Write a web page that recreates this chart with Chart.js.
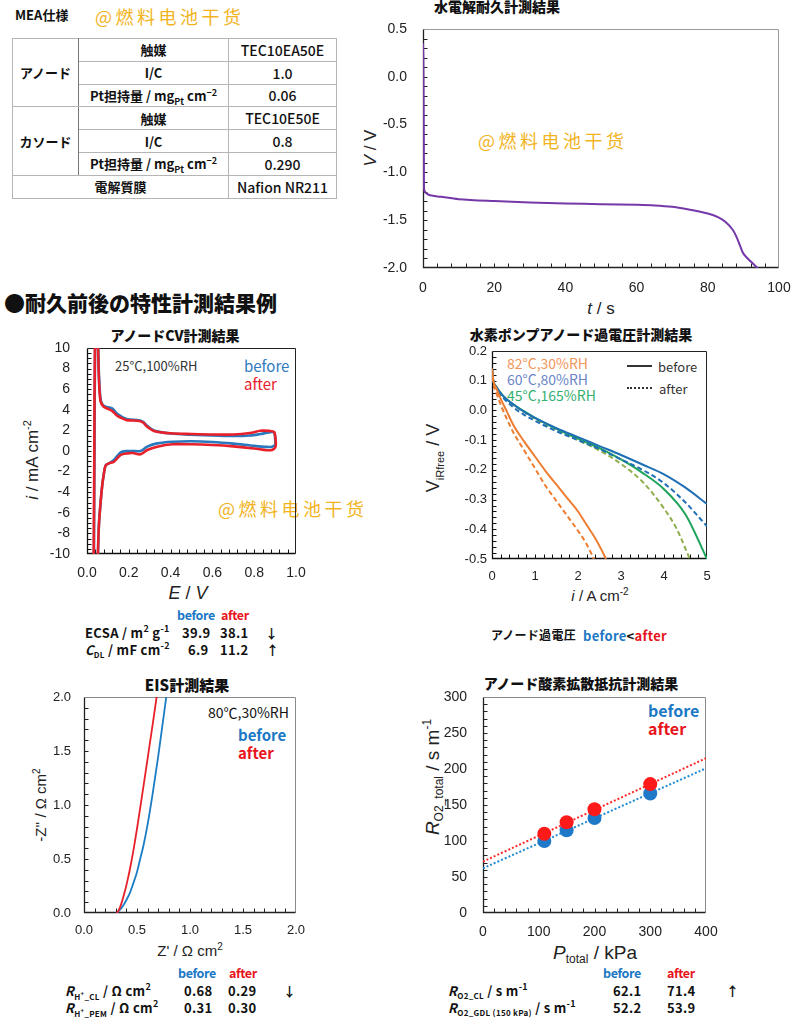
<!DOCTYPE html>
<html>
<head>
<meta charset="utf-8">
<script src="https://cdn.jsdelivr.net/npm/chart.js@4.4.1/dist/chart.umd.min.js"></script>
<style>
body { margin: 0; background: #fff; }
#page { position: relative; width: 797px; height: 1025px; overflow: hidden; font-family: "Noto Sans CJK JP", sans-serif; color: #111; }
.t { position: absolute; white-space: nowrap; line-height: 1; }
.c { transform: translate(-50%, -50%); }
.v { transform: translateY(-50%); }
.rot { transform: translate(-50%, -50%) rotate(-90deg); }
.title { font-weight: 900; font-size: 14px; }
.ax { font-family: "Liberation Sans", Arial, sans-serif; color: #222; }
.wm { color: #f2b41e; font-family: "Noto Sans CJK SC", sans-serif; font-size: 18px; letter-spacing: 3.5px; }
.b { font-weight: 700; }
.blue { color: #1b78c4; }
.red { color: #e8141c; }
.row { font-weight: 700; font-size: 13px; letter-spacing: 0.3px; }
.hd { letter-spacing: -0.4px; font-size: 12.5px; }
sub, sup { line-height: 0; }
canvas { position: absolute; }
#spec { position: absolute; left: 12px; top: 38px; width: 324px; border-collapse: collapse; table-layout: fixed; font-weight: 700; font-size: 13px; }
#spec td { border: 1px solid #b5b5b5; height: 21.8px; padding: 0; text-align: center; }
#spec td.val { font-weight: 500; font-size: 14px; }
#spec { border: 1.5px solid #444; }
#spec td.side { border-right: 1px solid #777; }
#spec tr.sep td { border-top: 1.5px solid #999; }
.leg { position: absolute; height: 0; width: 25px; }
</style>
</head>
<body>
<div id="page">
  <div class="t v b" style="left:15px;top:14px;font-size:13px;">MEA仕様</div>
  <div class="t v wm" style="left:95px;top:16px;">@燃料电池干货</div>

  <table id="spec">
    <colgroup><col style="width:66px"><col style="width:150px"><col style="width:108px"></colgroup>
    <tr><td rowspan="3" class="side">アノード</td><td>触媒</td><td class="val">TEC10EA50E</td></tr>
    <tr><td>I/C</td><td class="val">1.0</td></tr>
    <tr><td>Pt担持量 / mg<sub style="font-size:9px">Pt</sub> cm<sup style="font-size:9px">−2</sup></td><td class="val">0.06</td></tr>
    <tr class="sep"><td rowspan="3" class="side">カソード</td><td>触媒</td><td class="val">TEC10E50E</td></tr>
    <tr><td>I/C</td><td class="val">0.8</td></tr>
    <tr><td>Pt担持量 / mg<sub style="font-size:9px">Pt</sub> cm<sup style="font-size:9px">−2</sup></td><td class="val">0.290</td></tr>
    <tr><td colspan="2">電解質膜</td><td class="val">Nafion NR211</td></tr>
  </table>

  <!-- water electrolysis -->
  <div class="t c title" style="left:497px;top:6px;">水電解耐久計測結果</div>
  <div class="t rot ax" style="left:370px;top:148px;font-size:17px;"><i>V</i> / V</div>
  <div class="t c ax" style="left:601px;top:308px;font-size:17px;"><i>t</i> / s</div>
  <div class="t v wm" style="left:478px;top:140px;">@燃料电池干货</div>

  <div class="t v" style="left:4px;top:302px;font-size:21px;font-weight:900;">●耐久前後の特性計測結果例</div>

  <!-- CV -->
  <div class="t c title" style="left:175px;top:335px;">アノードCV計測結果</div>
  <div class="t rot ax" style="left:32px;top:460px;font-size:17px;"><i>i</i> / mA cm<sup style="font-size:11px">-2</sup></div>
  <div class="t c ax" style="left:188px;top:593px;font-size:18px;"><i>E</i> / <i>V</i></div>
  <div class="t v" style="left:115px;top:365px;font-size:13px;color:#333;">25°C,100%RH</div>
  <div class="t v" style="left:244px;top:365px;font-size:15px;color:#2e7bbf;">before</div>
  <div class="t v" style="left:244px;top:383px;font-size:15px;color:#e8202a;">after</div>
  <div class="t v wm" style="left:218px;top:508px;">@燃料电池干货</div>

  <div class="t v row hd blue" style="left:177px;top:615px;">before</div>
  <div class="t v row hd red" style="left:221px;top:615px;">after</div>
  <div class="t v row" style="left:85px;top:632px;">ECSA / m<sup style="font-size:9px">2</sup> g<sup style="font-size:9px">-1</sup></div>
  <div class="t v row" style="left:182px;top:632px;">39.9</div>
  <div class="t v row" style="left:220px;top:632px;">38.1</div>
  <div class="t v row" style="left:265px;top:632px;">↓</div>
  <div class="t v row" style="left:85px;top:649px;"><i>C</i><sub style="font-size:8px">DL</sub> / mF cm<sup style="font-size:9px">-2</sup></div>
  <div class="t v row" style="left:188px;top:649px;">6.9</div>
  <div class="t v row" style="left:220px;top:649px;">11.2</div>
  <div class="t v row" style="left:266px;top:649px;">↑</div>

  <!-- hydrogen pump -->
  <div class="t c title" style="left:581px;top:334px;">水素ポンプアノード過電圧計測結果</div>
  <div class="t rot ax" style="left:433px;top:458px;font-size:18px;">V<sub style="font-size:11px">iRfree</sub> / V</div>
  <div class="t c ax" style="left:600px;top:595px;font-size:15px;"><i>i</i> / A cm<sup style="font-size:10px">-2</sup></div>
  <div class="t v" style="left:507px;top:363px;font-size:14px;color:#f0965a;">82°C,30%RH</div>
  <div class="t v" style="left:507px;top:379px;font-size:14px;color:#6a86c8;">60°C,80%RH</div>
  <div class="t v" style="left:507px;top:395px;font-size:14px;color:#33b070;">45°C,165%RH</div>
  <div class="leg" style="left:627px;top:365px;border-top:2px solid #333;"></div>
  <div class="leg" style="left:627px;top:387px;border-top:2px dotted #333;"></div>
  <div class="t v" style="left:658px;top:366px;font-size:13px;color:#333;">before</div>
  <div class="t v" style="left:659px;top:388px;font-size:13px;color:#333;">after</div>
  <div class="t v row" style="left:491px;top:635px;font-size:12px;">アノード過電圧</div>
  <div class="t v row" style="left:583px;top:635px;"><span class="blue">before</span>&lt;<span class="red">after</span></div>

  <!-- EIS -->
  <div class="t c title" style="left:187px;top:684px;font-size:15px;">EIS計測結果</div>
  <div class="t rot ax" style="left:40px;top:805px;font-size:15px;">-Z'' / Ω cm<sup style="font-size:10px">2</sup></div>
  <div class="t c ax" style="left:190px;top:950px;font-size:15px;">Z' / Ω cm<sup style="font-size:10px">2</sup></div>
  <div class="t v" style="left:208px;top:712px;font-size:14px;">80℃,30%RH</div>
  <div class="t v b blue" style="left:238px;top:734px;font-size:15px;">before</div>
  <div class="t v b red" style="left:238px;top:752px;font-size:15px;">after</div>

  <div class="t v row hd blue" style="left:178px;top:973px;">before</div>
  <div class="t v row hd red" style="left:229px;top:973px;">after</div>
  <div class="t v row" style="left:65px;top:990px;"><i>R</i><sub style="font-size:8px">H<sup style="font-size:6px">+</sup>_CL</sub> /  Ω cm<sup style="font-size:9px">2</sup></div>
  <div class="t v row" style="left:184px;top:990px;">0.68</div>
  <div class="t v row" style="left:228px;top:990px;">0.29</div>
  <div class="t v row" style="left:283px;top:990px;">↓</div>
  <div class="t v row" style="left:65px;top:1007px;"><i>R</i><sub style="font-size:8px">H<sup style="font-size:6px">+</sup>_PEM</sub> /  Ω cm<sup style="font-size:9px">2</sup></div>
  <div class="t v row" style="left:184px;top:1007px;">0.31</div>
  <div class="t v row" style="left:228px;top:1007px;">0.30</div>

  <!-- O2 resistance -->
  <div class="t c title" style="left:581px;top:683px;">アノード酸素拡散抵抗計測結果</div>
  <div class="t rot ax" style="left:432px;top:777px;font-size:19px;"><i>R</i><sub style="font-size:12px">O2_total</sub> / s m<sup style="font-size:12px">-1</sup></div>
  <div class="t c ax" style="left:595px;top:952px;font-size:19px;"><i>P</i><sub style="font-size:12px">total</sub> / kPa</div>
  <div class="t v b blue" style="left:648px;top:710px;font-size:16px;">before</div>
  <div class="t v b red" style="left:648px;top:728px;font-size:16px;">after</div>

  <div class="t v row hd blue" style="left:603px;top:973px;">before</div>
  <div class="t v row hd red" style="left:667px;top:973px;">after</div>
  <div class="t v row" style="left:448px;top:990px;"><i>R</i><sub style="font-size:8px">O2_CL</sub> / s m<sup style="font-size:9px">-1</sup></div>
  <div class="t v row" style="left:613px;top:990px;">62.1</div>
  <div class="t v row" style="left:667px;top:990px;">71.4</div>
  <div class="t v row" style="left:726px;top:990px;">↑</div>
  <div class="t v row" style="left:448px;top:1007px;"><i>R</i><sub style="font-size:8px">O2_GDL (150 kPa)</sub> / s m<sup style="font-size:9px">-1</sup></div>
  <div class="t v row" style="left:613px;top:1007px;">52.2</div>
  <div class="t v row" style="left:667px;top:1007px;">53.9</div>
</div>

<script>
// ---- water electrolysis durability ----
const weT = [0, 0.1, 0.2, 0.25, 0.3, 0.5, 1, 2, 5, 10, 20, 30, 40, 50, 60, 65, 70, 75, 80, 83, 85, 87, 88, 89, 90, 92, 94];
const weV = [0.35, 0.2, -0.4, -0.9, -1.17, -1.2, -1.22, -1.24, -1.255, -1.28, -1.3, -1.315, -1.325, -1.332, -1.339, -1.345, -1.36, -1.39, -1.43, -1.47, -1.52, -1.6, -1.67, -1.76, -1.85, -1.93, -2.0];
const weXTicks = [0, 20, 40, 60, 80, 100];
const weYTicks = [0.5, 0, -0.5, -1, -1.5, -2];

// ---- anode CV (E / V, i / mA cm-2), sweep order ----
const cvE_after = [0.032, 0.035, 0.038, 0.045, 0.052, 0.057, 0.065, 0.08, 0.1, 0.12, 0.14, 0.16, 0.19, 0.25, 0.27, 0.285, 0.32, 0.4, 0.5, 0.6, 0.7, 0.78, 0.83, 0.87, 0.895, 0.902, 0.902, 0.885, 0.86, 0.8, 0.7, 0.6, 0.5, 0.41, 0.336, 0.288, 0.256, 0.22, 0.193, 0.161, 0.129, 0.105, 0.089, 0.08, 0.073, 0.065, 0.057, 0.051];
const cvI_after = [-10.5, 0, 10.5, 13, 10.5, 7, 4.8, 4.3, 4.1, 3.9, 3.5, 3.25, 3.0, 2.92, 2.75, 2.4, 1.95, 1.72, 1.65, 1.6, 1.6, 1.75, 1.97, 1.95, 1.85, 1.2, 0.4, 0.1, 0.08, 0.25, 0.45, 0.58, 0.65, 0.65, 0.42, 0.1, -0.32, -0.2, -0.23, -0.39, -1.04, -1.2, -1.4, -2.3, -3.3, -5, -7.2, -10.5];
const cvE_before = [0.033, 0.036, 0.039, 0.046, 0.053, 0.058, 0.066, 0.08, 0.1, 0.12, 0.14, 0.16, 0.19, 0.25, 0.27, 0.285, 0.32, 0.4, 0.5, 0.6, 0.7, 0.78, 0.83, 0.87, 0.895, 0.9, 0.9, 0.885, 0.86, 0.8, 0.7, 0.6, 0.5, 0.41, 0.336, 0.288, 0.256, 0.22, 0.193, 0.161, 0.129, 0.105, 0.089, 0.08, 0.073, 0.065, 0.057, 0.052];
const cvI_before = [-10.5, 0, 10.5, 13, 10.5, 7, 4.9, 4.4, 4.25, 4.15, 3.7, 3.4, 3.1, 2.98, 2.8, 2.5, 2.0, 1.7, 1.58, 1.52, 1.45, 1.5, 1.65, 1.8, 1.8, 1.2, 0.6, 0.42, 0.4, 0.5, 0.72, 0.88, 0.95, 0.9, 0.74, 0.42, 0.0, 0.0, 0.0, -0.13, -0.87, -1.2, -1.4, -2.3, -3.3, -5, -7.2, -10.5];
const cvXTicks = [0, 0.2, 0.4, 0.6, 0.8, 1.0];
const cvYTicks = [-10, -8, -6, -4, -2, 0, 2, 4, 6, 8, 10];

// ---- hydrogen pump anode overpotential (i / A cm-2, V_iRfree / V) ----
const hpI_82b = [0, 0.03, 0.1, 0.2, 0.35, 0.5, 0.75, 1.0, 1.25, 1.5, 1.75, 2.0, 2.2, 2.4, 2.55, 2.65];
const hpV_82b = [0.14, 0.1, 0.075, 0.04, -0.005, -0.05, -0.105, -0.155, -0.205, -0.25, -0.295, -0.34, -0.385, -0.43, -0.47, -0.5];
const hpI_82a = [0, 0.03, 0.1, 0.2, 0.35, 0.5, 0.75, 1.0, 1.25, 1.5, 1.75, 2.0, 2.2, 2.37];
const hpV_82a = [0.14, 0.095, 0.06, 0.02, -0.03, -0.075, -0.135, -0.195, -0.255, -0.305, -0.355, -0.405, -0.45, -0.5];
const hpI = [0, 0.03, 0.1, 0.25, 0.5, 0.75, 1, 1.5, 2, 2.5, 3, 3.5, 4, 4.5, 5];
const hpV_60b = [0.14, 0.1, 0.08, 0.05, 0.02, -0.005, -0.025, -0.06, -0.09, -0.12, -0.15, -0.182, -0.215, -0.26, -0.315];
const hpV_60a = [0.14, 0.1, 0.075, 0.045, 0.01, -0.015, -0.035, -0.07, -0.1, -0.13, -0.165, -0.2, -0.245, -0.31, -0.39];
const hpV_45b = [0.14, 0.1, 0.08, 0.05, 0.02, -0.003, -0.025, -0.062, -0.095, -0.127, -0.165, -0.21, -0.265, -0.35, -0.5];
const hpI_45a = [0, 0.03, 0.1, 0.25, 0.5, 0.75, 1, 1.5, 2, 2.5, 3, 3.5, 4, 4.3, 4.6];
const hpV_45a = [0.14, 0.1, 0.08, 0.05, 0.018, -0.005, -0.028, -0.065, -0.1, -0.135, -0.18, -0.24, -0.33, -0.4, -0.5];
const hpXTicks = [0, 1, 2, 3, 4, 5];
const hpYTicks = [0.2, 0.1, 0, -0.1, -0.2, -0.3, -0.4, -0.5];

// ---- EIS Nyquist (Z' , -Z'' / ohm cm2) ----
const eisRe_after = [0.31, 0.33, 0.35, 0.38, 0.41, 0.44, 0.47, 0.50, 0.55, 0.60, 0.65, 0.70];
const eisIm_after = [0, 0.03, 0.08, 0.18, 0.3, 0.44, 0.6, 0.78, 1.1, 1.43, 1.76, 2.1];
const eisRe_before = [0.31, 0.34, 0.37, 0.40, 0.43, 0.46, 0.50, 0.53, 0.56, 0.60, 0.65, 0.70, 0.78];
const eisIm_before = [0, 0.03, 0.07, 0.12, 0.18, 0.26, 0.38, 0.5, 0.62, 0.82, 1.12, 1.45, 2.03];
const eisTicks = [0, 0.5, 1.0, 1.5, 2.0];

// ---- anode O2 diffusion resistance ----
const o2P = [110, 150, 200, 300];
const o2R_before = [100, 115, 132, 166];
const o2R_after = [110, 126, 144, 179];
const o2FitP = [0, 400];
const o2Fit_before = [62.1, 201];
const o2Fit_after = [71.4, 215];
const o2XTicks = [0, 100, 200, 300, 400];
const o2YTicks = [0, 50, 100, 150, 200, 250, 300];

const PAD_T = 30, PAD_R = 40;

// plot frame + inner minor ticks, drawn under the data
const framePlugin = {
    id: "frame",
    beforeDatasetsDraw(chart, args, o) {
        const ctx = chart.ctx;
        const a = chart.chartArea;
        const sx = chart.scales.x, sy = chart.scales.y;
        const L = Math.round(a.left) + 0.5, R = Math.round(a.right) - 0.5;
        const T = Math.round(a.top) + 0.5, B = Math.round(a.bottom) - 0.5;
        ctx.save();
        ctx.lineWidth = 1;
        ctx.strokeStyle = o.tr;
        ctx.beginPath();
        ctx.moveTo(L, T); ctx.lineTo(R, T); ctx.lineTo(R, B);
        ctx.stroke();
        ctx.strokeStyle = o.lb;
        ctx.lineWidth = 1.3;
        ctx.beginPath();
        ctx.moveTo(L, T); ctx.lineTo(L, B); ctx.lineTo(R, B);
        ctx.stroke();
        ctx.lineWidth = 1;
        ctx.beginPath();
        let n = Math.round((sx.max - sx.min) / o.xStep);
        for (let i = 1; i < n; i++) {
            const px = Math.round(sx.getPixelForValue(sx.min + i * o.xStep)) + 0.5;
            ctx.moveTo(px, B); ctx.lineTo(px, B - o.len);
        }
        n = Math.round((sy.max - sy.min) / o.yStep);
        for (let i = 1; i < n; i++) {
            const py = Math.round(sy.getPixelForValue(sy.min + i * o.yStep)) + 0.5;
            ctx.moveTo(L, py); ctx.lineTo(L + o.len, py);
        }
        ctx.stroke();
        ctx.restore();
    }
};

const pts = (xs, ys) => xs.map((x, i) => ({ x: x, y: ys[i] }));

const lineDs = (xs, ys, color, width, dash, mono) => ({
    data: pts(xs, ys),
    showLine: true,
    borderColor: color,
    borderWidth: width,
    borderDash: dash || [],
    pointRadius: 0,
    fill: false,
    tension: mono ? 0 : 0.3,
    cubicInterpolationMode: mono ? "monotone" : "default",
});

const axis = (min, max, ticks, fmt, pad, size) => ({
    type: "linear",
    min: min,
    max: max,
    grid: { display: false, drawTicks: false },
    border: { display: false },
    afterBuildTicks: (s) => { s.ticks = ticks.map((v) => ({ value: v })); },
    ticks: {
        padding: pad,
        autoSkip: false,
        maxRotation: 0,
        color: "#222",
        font: { family: '"Liberation Sans", Arial, sans-serif', size: size },
        callback: fmt,
    },
});

const makeChart = (box, datasets, xa, ya, frame) => {
    const canvas = document.createElement("canvas");
    const left = box.l - box.yw, top = box.t - PAD_T;
    const w = box.r + PAD_R - left, h = box.b + box.xh - top;
    canvas.width = w;
    canvas.height = h;
    canvas.style.left = left + "px";
    canvas.style.top = top + "px";
    canvas.style.width = w + "px";
    canvas.style.height = h + "px";
    document.getElementById("page").appendChild(canvas);
    xa.afterFit = (s) => { s.height = box.xh; };
    ya.afterFit = (s) => { s.width = box.yw; };
    return new Chart(canvas, {
        type: "scatter",
        data: { datasets: datasets },
        options: {
            responsive: false,
            animation: false,
            devicePixelRatio: 1,
            layout: { padding: { top: PAD_T, right: PAD_R, left: 0, bottom: 0 } },
            scales: { x: xa, y: ya },
            plugins: { legend: { display: false }, tooltip: { enabled: false }, frame: frame },
        },
        plugins: [framePlugin],
    });
};

const f0 = (v) => v.toFixed(0);
const f1 = (v) => v.toFixed(1);

makeChart(
    { l: 423, t: 29, r: 779, b: 268, yw: 50, xh: 30 },
    [lineDs(weT, weV, "#7438a8", 2)],
    axis(0, 100, weXTicks, f0, 12, 14),
    axis(-2, 0.5, weYTicks, f1, 16, 14),
    { lb: "#222", tr: "#9a9a9a", xStep: 4, yStep: 0.1, len: 4 }
);

makeChart(
    { l: 87, t: 348, r: 296, b: 554, yw: 45, xh: 30 },
    [lineDs(cvE_after, cvI_after, "#e8202a", 2.6), lineDs(cvE_before, cvI_before, "#2a78bd", 2.6)],
    axis(0, 1, cvXTicks, f1, 11, 14),
    axis(-10, 10, cvYTicks, f0, 17, 14),
    { lb: "#111", tr: "#222", xStep: 0.04, yStep: 0.5, len: 4 }
);

makeChart(
    { l: 492, t: 351, r: 707, b: 559, yw: 40, xh: 28 },
    [
        lineDs(hpI_82b, hpV_82b, "#ed7d31", 2, [], true),
        lineDs(hpI_82a, hpV_82a, "#ed7d31", 2, [5, 3], true),
        lineDs(hpI, hpV_60b, "#1f6fb5", 2, [], true),
        lineDs(hpI, hpV_60a, "#1f6fb5", 2, [5, 3], true),
        lineDs(hpI, hpV_45b, "#1ea35a", 2, [], true),
        lineDs(hpI_45a, hpV_45a, "#8fae4e", 2, [5, 3], true),
    ],
    axis(0, 5, hpXTicks, f0, 10, 13),
    axis(-0.5, 0.2, hpYTicks, f1, 5, 13),
    { lb: "#111", tr: "#222", xStep: 0.2, yStep: 0.02, len: 4 }
);

makeChart(
    { l: 84, t: 697, r: 296, b: 913, yw: 40, xh: 28 },
    [
        lineDs(eisRe_after, eisIm_after, "#e8202a", 1.8, [], true),
        lineDs(eisRe_before, eisIm_before, "#1a7dc4", 1.8, [], true),
    ],
    axis(0, 2, eisTicks, f1, 10, 13),
    axis(0, 2, eisTicks, f1, 13, 13),
    { lb: "#222", tr: "#8a8a8a", xStep: 0.1, yStep: 0.1, len: 4 }
);

makeChart(
    { l: 483, t: 697, r: 706, b: 913, yw: 45, xh: 28 },
    [
        { data: pts(o2P, o2R_after), pointRadius: 7, pointBackgroundColor: "#ff1a1a", pointBorderWidth: 0 },
        { data: pts(o2P, o2R_before), pointRadius: 7, pointBackgroundColor: "#1f78c8", pointBorderWidth: 0 },
        lineDs(o2FitP, o2Fit_after, "#ff2a2a", 2, [2, 2]),
        lineDs(o2FitP, o2Fit_before, "#1f8ad0", 2, [2, 2]),
    ],
    axis(0, 400, o2XTicks, f0, 11, 14),
    axis(0, 300, o2YTicks, f0, 16, 14),
    { lb: "#222", tr: "#8a8a8a", xStep: 20, yStep: 10, len: 4 }
);
</script>
</body>
</html>
